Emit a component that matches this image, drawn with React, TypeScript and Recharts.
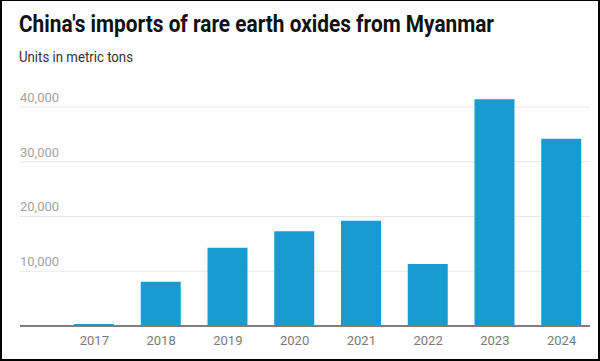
import React from 'react';
import { BarChart, Bar, XAxis, YAxis, CartesianGrid } from 'recharts';

const years = ['2017', '2018', '2019', '2020', '2021', '2022', '2023', '2024'];
const imports = [350, 8100, 14300, 17300, 19200, 11300, 41400, 34200];
const yTicks = [0, 10000, 20000, 30000, 40000];

const title = "China's imports of rare earth oxides from Myanmar";
const subtitle = 'Units in metric tons';

const data = years.map((year, i) => ({ year, value: imports[i] }));

const fmt = (v: number) => v.toLocaleString('en-US');

const YTick = (props: any) => {
  const { x, y, payload } = props;
  if (payload.value === 0) return <g />;
  return (
    <text x={x} y={y} dy={-5} textAnchor="start" fill="#a3a3a3" fontSize={13} fontFamily="Roboto">
      {fmt(payload.value)}
    </text>
  );
};

const GridLine = (props: any) => {
  const { x1, x2, y1, y2, y, height } = props;
  if (Math.abs(y1 - y) < 0.5) return <g />;
  const isBase = Math.abs(y1 - (y + height)) < 0.5;
  return (
    <line
      x1={x1}
      x2={x2 - 5}
      y1={y1}
      y2={y2}
      stroke={isBase ? '#555555' : '#e8e8e8'}
      strokeWidth={isBase ? 1.5 : 1}
    />
  );
};

export default function App() {
  return (
    <div
      style={{
        position: 'fixed',
        left: 0,
        top: 0,
        width: 600,
        height: 361,
        background: '#ffffff',
        overflow: 'hidden',
      }}
    >
      <div style={{ position: 'absolute', left: 0, top: 0 }}>
        <BarChart
          width={600}
          height={361}
          data={data}
          margin={{ top: 96, right: 5, bottom: 5, left: 20 }}
        >
          <CartesianGrid vertical={false} horizontal={GridLine} />
          <XAxis
            dataKey="year"
            padding={{ left: 41, right: 0 }}
            axisLine={false}
            tickLine={false}
            tickSize={0}
            tickMargin={10}
            height={30}
            interval={0}
            tick={{ fill: '#7a7a7a', fontSize: 13, fontFamily: 'Roboto' }}
          />
          <YAxis
            type="number"
            domain={[0, 42000]}
            ticks={yTicks}
            mirror
            width={1}
            axisLine={false}
            tickLine={false}
            tickSize={0}
            tickMargin={0}
            interval={0}
            tick={YTick}
          />
          <Bar dataKey="value" fill="#189cd0" barSize={40} isAnimationActive={false} />
        </BarChart>
      </div>
      <svg width={600} height={361} style={{ position: 'absolute', left: 0, top: 0, pointerEvents: 'none' }}>
        <text
          x={19}
          y={32}
          fontFamily="Roboto"
          fontWeight={700}
          fontSize={23}
          fill="#111111"
          textLength={475}
          lengthAdjust="spacingAndGlyphs"
        >
          {title}
        </text>
        <text
          x={19}
          y={62}
          fontFamily="Roboto"
          fontSize={15}
          fill="#333333"
          textLength={114}
          lengthAdjust="spacingAndGlyphs"
        >
          {subtitle}
        </text>
      </svg>
      <div
        style={{
          position: 'absolute',
          left: 0,
          top: 0,
          width: 600,
          height: 361,
          boxSizing: 'border-box',
          borderTop: '1px solid #000',
          borderLeft: '2px solid #000',
          borderRight: '2px solid #000',
          borderBottom: '2px solid #000',
          pointerEvents: 'none',
        }}
      />
    </div>
  );
}
